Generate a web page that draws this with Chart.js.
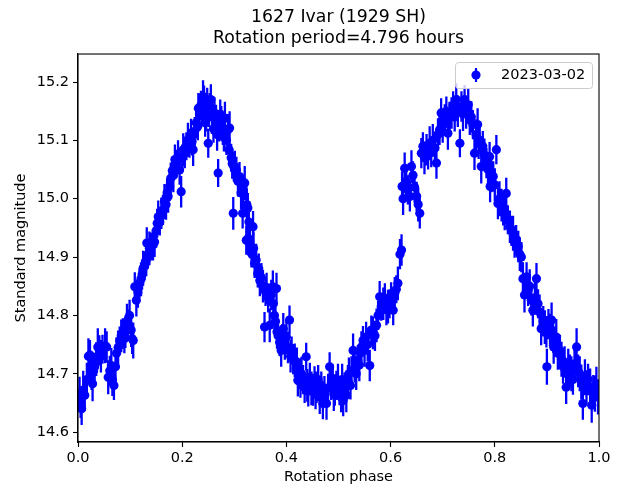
<!DOCTYPE html>
<html><head><meta charset="utf-8">
<script src="https://cdn.jsdelivr.net/npm/chart.js@4.4.0/dist/chart.umd.min.js"></script>
<style>html,body{margin:0;padding:0;background:#fff}#wrap{width:617px;height:489px}</style>
</head><body><div id="wrap"><canvas id="c" width="617" height="489"></canvas></div>
<script>
const titleLines = ['1627 Ivar (1929 SH)', 'Rotation period=4.796 hours'];
const seriesLabel = '2023-03-02';
const xTitle = 'Rotation phase';
const yTitle = 'Standard magnitude';
const xTicks = [0.0, 0.2, 0.4, 0.6, 0.8, 1.0];
const yTicks = [14.6, 14.7, 14.8, 14.9, 15.0, 15.1, 15.2];
const xRange = [0, 1];
const yRange = [14.583, 15.248];

const phase = [
0.003,0.005,0.007,0.010,0.013,0.017,0.020,0.023,0.026,0.028,
0.030,0.032,0.035,0.038,0.041,0.044,0.047,0.052,0.055,0.058,
0.061,0.064,0.066,0.069,0.072,0.074,0.077,0.080,0.083,0.086,
0.089,0.091,0.094,0.096,0.099,0.102,0.104,0.106,0.109,0.112,
0.115,0.118,0.121,0.123,0.125,0.128,0.131,0.132,0.134,0.137,
0.141,0.144,0.147,0.150,0.152,0.154,0.157,0.160,0.163,0.166,
0.169,0.171,0.173,0.176,0.178,0.181,0.183,0.186,0.189,0.192,
0.195,0.198,0.200,0.202,0.205,0.208,0.211,0.214,0.217,0.219,
0.221,0.224,0.227,0.230,0.231,0.233,0.236,0.238,0.240,0.242,
0.244,0.246,0.248,0.250,0.251,0.253,0.255,0.257,0.260,0.262,
0.265,0.267,0.269,0.271,0.273,0.275,0.278,0.280,0.282,0.285,
0.288,0.290,0.291,0.294,0.296,0.298,0.299,0.301,0.304,0.307,
0.310,0.313,0.316,0.317,0.320,0.323,0.324,0.326,0.327,0.328,
0.330,0.333,0.336,0.337,0.339,0.342,0.345,0.347,0.349,0.352,
0.355,0.358,0.360,0.362,0.365,0.368,0.371,0.374,0.375,0.377,
0.379,0.381,0.382,0.384,0.387,0.390,0.392,0.394,0.397,0.400,
0.403,0.406,0.408,0.410,0.413,0.416,0.419,0.420,0.422,0.425,
0.427,0.429,0.432,0.435,0.438,0.440,0.442,0.445,0.448,0.451,
0.454,0.456,0.458,0.461,0.464,0.467,0.470,0.473,0.477,0.480,
0.483,0.486,0.489,0.491,0.493,0.496,0.499,0.502,0.505,0.507,
0.509,0.512,0.515,0.518,0.520,0.523,0.525,0.528,0.531,0.534,
0.537,0.540,0.542,0.544,0.547,0.550,0.553,0.556,0.560,0.563,
0.566,0.570,0.573,0.576,0.579,0.582,0.586,0.589,0.592,0.595,
0.598,0.601,0.605,0.608,0.611,0.614,0.618,0.621,0.622,0.624,
0.627,0.630,0.633,0.637,0.640,0.643,0.646,0.650,0.653,0.656,
0.659,0.662,0.665,0.669,0.672,0.675,0.678,0.681,0.685,0.688,
0.691,0.694,0.697,0.700,0.704,0.707,0.710,0.713,0.717,0.720,
0.723,0.726,0.729,0.733,0.736,0.739,0.742,0.745,0.749,0.752,
0.755,0.758,0.761,0.764,0.767,0.769,0.771,0.774,0.777,0.780,
0.784,0.787,0.790,0.791,0.793,0.797,0.800,0.803,0.806,0.809,
0.813,0.816,0.819,0.822,0.825,0.829,0.832,0.835,0.838,0.841,
0.845,0.848,0.851,0.854,0.857,0.861,0.864,0.867,0.870,0.873,
0.877,0.880,0.883,0.886,0.889,0.893,0.896,0.899,0.900,0.903,
0.906,0.909,0.912,0.913,0.915,0.918,0.921,0.925,0.928,0.931,
0.934,0.937,0.941,0.944,0.947,0.950,0.953,0.957,0.960,0.963,
0.966,0.969,0.973,0.976,0.979,0.983,0.986,0.989,0.992,0.995,
0.998];

const magnitude = [
14.665,14.650,14.640,14.672,14.663,14.690,14.730,14.732,14.700,14.683,
14.705,14.712,14.725,14.746,14.740,14.730,14.742,14.748,14.746,14.694,
14.705,14.714,14.690,14.680,14.712,14.735,14.745,14.757,14.765,14.769,
14.760,14.772,14.790,14.786,14.800,14.775,14.760,14.757,14.849,14.826,
14.840,14.855,14.862,14.870,14.881,14.885,14.895,14.924,14.905,14.915,
14.918,14.921,14.926,14.945,14.958,14.969,14.960,14.975,14.981,14.995,
14.990,15.010,15.004,15.021,15.035,15.048,15.040,15.067,15.060,15.072,
15.049,15.012,15.070,15.084,15.078,15.090,15.101,15.095,15.110,15.098,
15.084,15.115,15.130,15.124,15.155,15.145,15.160,15.150,15.175,15.168,
15.130,15.141,15.162,15.095,15.150,15.158,15.170,15.140,15.120,15.147,
15.135,15.110,15.044,15.125,15.145,15.130,15.118,15.105,15.138,15.100,
15.118,15.084,15.121,15.070,15.060,14.975,15.055,15.055,15.049,15.030,
15.038,15.010,14.975,15.017,15.027,14.929,14.990,14.984,14.932,14.960,
14.924,14.906,14.952,14.915,14.889,14.895,14.872,14.880,14.860,14.865,
14.850,14.780,14.840,14.846,14.830,14.783,14.835,14.849,14.820,14.800,
14.790,14.846,14.772,14.765,14.754,14.740,14.760,14.777,14.750,14.763,
14.745,14.792,14.730,14.740,14.725,14.723,14.709,14.720,14.689,14.700,
14.685,14.700,14.690,14.677,14.729,14.680,14.670,14.694,14.675,14.672,
14.685,14.665,14.677,14.690,14.660,14.680,14.649,14.670,14.649,14.675,
14.712,14.683,14.690,14.665,14.672,14.680,14.689,14.670,14.660,14.690,
14.654,14.677,14.663,14.689,14.700,14.680,14.703,14.740,14.710,14.700,
14.723,14.715,14.735,14.746,14.757,14.740,14.763,14.750,14.714,14.775,
14.770,14.765,14.783,14.800,14.832,14.815,14.820,14.829,14.810,14.815,
14.820,14.830,14.809,14.838,14.845,14.855,14.905,14.912,15.021,15.000,
15.052,15.030,15.015,15.004,15.055,15.040,15.020,15.004,14.990,14.975,
15.078,15.090,15.070,15.084,15.075,15.095,15.080,15.100,15.087,15.061,
15.110,15.118,15.147,15.125,15.135,15.150,15.112,15.140,15.147,15.160,
15.140,15.170,15.150,15.095,15.158,15.145,15.170,15.147,15.161,15.135,
15.140,15.127,15.078,15.110,15.127,15.095,15.100,15.055,15.090,15.075,
15.061,15.050,15.072,15.021,15.040,15.038,15.024,15.084,14.992,15.000,
14.989,14.980,14.975,15.009,14.964,14.952,14.945,14.941,14.926,14.930,
14.918,14.905,14.900,14.863,14.835,14.866,14.843,14.850,14.826,14.809,
14.830,14.863,14.820,14.806,14.777,14.790,14.780,14.772,14.712,14.785,
14.775,14.792,14.763,14.746,14.755,14.763,14.735,14.740,14.725,14.712,
14.720,14.677,14.712,14.705,14.700,14.690,14.717,14.746,14.705,14.700,
14.686,14.649,14.694,14.677,14.690,14.677,14.646,14.670,14.666,14.683,
14.660];

const magError = [
0.030,0.026,0.028,0.033,0.027,0.029,0.031,0.026,0.028,0.030,
0.027,0.024,0.029,0.032,0.026,0.028,0.025,0.030,0.027,0.029,
0.026,0.030,0.028,0.025,0.031,0.027,0.029,0.024,0.028,0.026,
0.025,0.028,0.030,0.024,0.027,0.029,0.026,0.031,0.025,0.028,
0.027,0.025,0.029,0.026,0.030,0.024,0.028,0.027,0.025,0.029,
0.024,0.027,0.026,0.029,0.025,0.028,0.023,0.027,0.026,0.030,
0.026,0.024,0.028,0.025,0.027,0.023,0.029,0.026,0.024,0.028,
0.025,0.027,0.023,0.028,0.026,0.024,0.029,0.025,0.027,0.024,
0.028,0.025,0.027,0.024,0.026,0.029,0.025,0.023,0.028,0.026,
0.024,0.026,0.028,0.025,0.027,0.023,0.026,0.029,0.024,0.027,
0.026,0.028,0.024,0.027,0.025,0.029,0.026,0.024,0.028,0.025,
0.027,0.025,0.029,0.024,0.026,0.028,0.025,0.027,0.023,0.026,
0.025,0.028,0.026,0.024,0.029,0.025,0.027,0.026,0.028,0.024,
0.026,0.024,0.027,0.029,0.025,0.028,0.024,0.026,0.027,0.025,
0.028,0.026,0.024,0.027,0.025,0.029,0.026,0.028,0.025,0.027,
0.025,0.027,0.029,0.026,0.024,0.028,0.025,0.027,0.026,0.029,
0.027,0.025,0.028,0.024,0.026,0.029,0.027,0.025,0.028,0.026,
0.026,0.029,0.025,0.027,0.024,0.028,0.026,0.025,0.029,0.027,
0.028,0.026,0.027,0.025,0.029,0.024,0.027,0.026,0.028,0.025,
0.025,0.028,0.026,0.029,0.027,0.025,0.028,0.024,0.026,0.027,
0.027,0.025,0.029,0.026,0.028,0.024,0.027,0.029,0.025,0.028,
0.026,0.028,0.024,0.027,0.025,0.028,0.026,0.029,0.027,0.025,
0.028,0.026,0.029,0.025,0.027,0.024,0.028,0.026,0.027,0.029,
0.025,0.027,0.026,0.028,0.024,0.029,0.026,0.027,0.025,0.028,
0.027,0.029,0.025,0.026,0.028,0.024,0.027,0.025,0.029,0.026,
0.026,0.024,0.028,0.027,0.025,0.029,0.026,0.028,0.024,0.027,
0.028,0.026,0.025,0.029,0.027,0.025,0.028,0.026,0.027,0.024,
0.025,0.028,0.027,0.024,0.026,0.029,0.025,0.027,0.028,0.026,
0.027,0.025,0.029,0.026,0.028,0.027,0.024,0.029,0.026,0.028,
0.026,0.028,0.025,0.027,0.029,0.026,0.028,0.025,0.027,0.030,
0.028,0.026,0.029,0.027,0.025,0.028,0.026,0.030,0.027,0.025,
0.027,0.029,0.026,0.028,0.030,0.025,0.027,0.029,0.026,0.028,
0.029,0.027,0.025,0.030,0.028,0.026,0.029,0.027,0.031,0.026,
0.028,0.030,0.027,0.029,0.026,0.031,0.028,0.027,0.030,0.029,
0.027,0.029,0.031,0.028,0.030,0.026,0.029,0.032,0.028,0.030,
0.030,0.028,0.031,0.029,0.027,0.032,0.030,0.028,0.031,0.029,
0.030];

const FONT = 'DejaVu Sans';
const BLUE = '#0000ff';
const TICK_SIZE = 14.5;
const TITLE_SIZE = 17.3;

const points = phase.map((p, i) => ({ x: p, y: magnitude[i] }));
const errorSegments = [];
phase.forEach((p, i) => {
  errorSegments.push({ x: p, y: magnitude[i] - magError[i] });
  errorSegments.push({ x: p, y: magnitude[i] + magError[i] });
  errorSegments.push({ x: p, y: null });
});

Chart.defaults.font.family = FONT;
Chart.defaults.color = '#000';

const framePlugin = {
  id: 'frame',
  afterLayout(chart) {
    const tb = chart.titleBlock;
    if (tb) {
      tb.left = chart.chartArea.left;
      tb.right = chart.chartArea.right;
      tb.width = tb.right - tb.left;
    }
  },
  afterDraw(chart) {
    const ca = chart.chartArea;
    const ctx = chart.ctx;
    ctx.save();
    ctx.strokeStyle = '#000';
    ctx.lineWidth = 1.1;
    ctx.strokeRect(ca.left, ca.top, ca.right - ca.left, ca.bottom - ca.top);
    // legend
    const w = 137, h = 26;
    const x0 = ca.right - 7 - w, y0 = ca.top + 8;
    ctx.beginPath();
    if (ctx.roundRect) ctx.roundRect(x0 + 0.5, y0 + 0.5, w, h, 3); else ctx.rect(x0 + 0.5, y0 + 0.5, w, h);
    ctx.fillStyle = 'rgba(255,255,255,0.8)';
    ctx.fill();
    ctx.strokeStyle = '#cccccc';
    ctx.lineWidth = 1;
    ctx.stroke();
    const mx = x0 + 21, my = y0 + h / 2;
    ctx.strokeStyle = BLUE;
    ctx.lineWidth = 2.2;
    ctx.beginPath();
    ctx.moveTo(mx, my - 7);
    ctx.lineTo(mx, my + 7);
    ctx.stroke();
    ctx.fillStyle = BLUE;
    ctx.beginPath();
    ctx.arc(mx, my, 4.6, 0, Math.PI * 2);
    ctx.fill();
    ctx.fillStyle = '#000';
    ctx.font = TICK_SIZE + 'px "' + FONT + '"';
    ctx.textAlign = 'left';
    ctx.textBaseline = 'middle';
    ctx.fillText(chart.data.datasets[0].label, x0 + 46, my + 0.5);
    ctx.restore();
  }
};

new Chart(document.getElementById('c'), {
  type: 'scatter',
  data: {
    datasets: [
      {
        label: seriesLabel,
        data: points,
        pointRadius: 4.6,
        pointHoverRadius: 4.6,
        backgroundColor: BLUE,
        borderColor: BLUE,
        borderWidth: 0,
        showLine: false,
        clip: 0
      },
      {
        label: seriesLabel + ' error',
        data: errorSegments,
        showLine: true,
        spanGaps: false,
        pointRadius: 0,
        pointHoverRadius: 0,
        borderColor: BLUE,
        backgroundColor: BLUE,
        borderWidth: 2.3,
        clip: 0
      }
    ]
  },
  options: {
    responsive: false,
    animation: false,
    devicePixelRatio: 1,
    events: [],
    layout: { padding: { left: 0, right: 18, top: 0, bottom: 0 } },
    plugins: {
      legend: { display: false },
      tooltip: { enabled: false },
      title: {
        display: true,
        text: titleLines,
        color: '#000',
        font: { family: FONT, size: TITLE_SIZE, weight: 'normal', lineHeight: 1.2 },
        padding: { top: 7, bottom: 5.5 }
      }
    },
    scales: {
      x: {
        type: 'linear',
        min: xRange[0],
        max: xRange[1],
        afterBuildTicks: s => { s.ticks = xTicks.map(v => ({ value: v })); },
        afterFit: s => { s.height = 47; },
        ticks: { color: '#000', font: { family: FONT, size: TICK_SIZE }, padding: 3, maxRotation: 0, autoSkip: false, callback: v => Number(v).toFixed(1) },
        grid: { display: true, drawOnChartArea: false, drawTicks: true, tickLength: 5, tickColor: '#000', tickWidth: 1.1 },
        border: { display: true, color: '#000', width: 1.1 },
        title: { display: true, text: xTitle, color: '#000', font: { family: FONT, size: TICK_SIZE }, padding: { top: 0, bottom: 3.2 } }
      },
      y: {
        type: 'linear',
        min: yRange[0],
        max: yRange[1],
        afterBuildTicks: s => { s.ticks = yTicks.map(v => ({ value: v })); },
        afterFit: s => { s.width = 78; },
        ticks: { color: '#000', font: { family: FONT, size: TICK_SIZE }, padding: 4, autoSkip: false, callback: v => Number(v).toFixed(1) },
        grid: { display: true, drawOnChartArea: false, drawTicks: true, tickLength: 5, tickColor: '#000', tickWidth: 1.1 },
        border: { display: true, color: '#000', width: 1.1 },
        title: { display: true, text: yTitle, color: '#000', font: { family: FONT, size: TICK_SIZE }, padding: { top: 12.5, bottom: 0 } }
      }
    }
  },
  plugins: [framePlugin]
});
</script>
</body></html>
